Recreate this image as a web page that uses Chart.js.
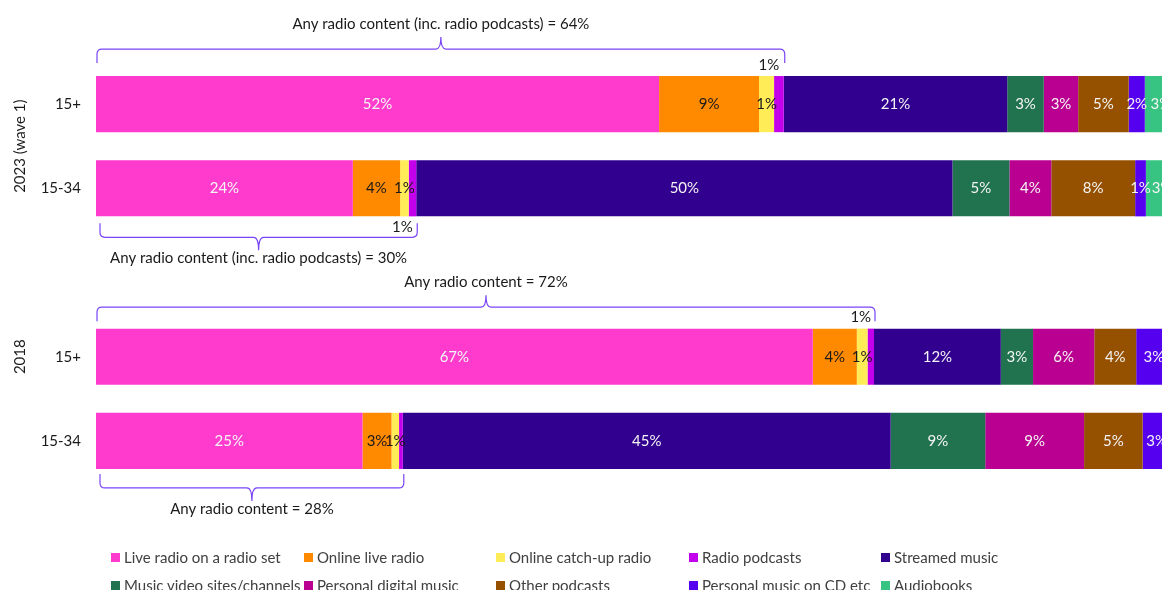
<!DOCTYPE html>
<html><head><meta charset="utf-8">
<script src="https://cdn.jsdelivr.net/npm/chart.js@4/dist/chart.umd.min.js"></script>
<style>
html,body{margin:0;padding:0;background:#fff;}
#wrap{position:relative;width:1162px;height:590px;overflow:hidden;}
canvas{position:absolute;left:0;top:0;}
#legend{position:absolute;left:0;top:0;width:1162px;height:590px;pointer-events:none;font-family:Lato,sans-serif;font-size:15px;color:#404040;}
.li{position:absolute;display:flex;align-items:center;white-space:nowrap;height:16px;line-height:16px;}
.li .box{display:inline-block;width:9px;height:9px;margin-right:4px;}
</style></head>
<body><div id="wrap"><canvas id="c" width="1162" height="590"></canvas><div id="legend"></div></div>
<script>
// ---- data ----
const categories = ['15+', '15-34', '', '15+', '15-34'];
const groupLabels = ['2023 (wave 1)', '2018'];
const seriesNames = ['Live radio on a radio set', 'Online live radio', 'Online catch-up radio', 'Radio podcasts', 'Streamed music',
  'Music video sites/channels', 'Personal digital music', 'Other podcasts', 'Personal music on CD etc', 'Audiobooks'];
const liveRadioSet    = [52.4, 23.9, null, 66.7, 24.8];
const onlineLiveRadio = [9.3, 4.4, null, 4.1, 2.7];
const onlineCatchUp   = [1.4, 0.8, null, 1.0, 0.7];
const radioPodcasts   = [0.9, 0.7, null, 0.6, 0.35];
const streamedMusic   = [20.8, 49.9, null, 11.8, 45.4];
const musicVideo      = [3.4, 5.3, null, 3.0, 8.8];
const personalDigital = [3.2, 3.9, null, 5.7, 9.2];
const otherPodcasts   = [4.7, 7.8, null, 3.9, 5.45];
const personalCD      = [1.5, 1.0, null, 3.3, 2.6];
const audiobooks      = [3.0, 3.0, null, null, null];
const radioBracketLabels = ['Any radio content (inc. radio podcasts) = 64%', 'Any radio content (inc. radio podcasts) = 30%', null,
  'Any radio content = 72%', 'Any radio content = 28%'];

// ---- styles ----
const seriesValues = [liveRadioSet, onlineLiveRadio, onlineCatchUp, radioPodcasts, streamedMusic, musicVideo, personalDigital, otherPodcasts, personalCD, audiobooks];
const colors = ['#FF3BCE', '#FF8A00', '#FFEC57', '#C300EB', '#31008F', '#217350', '#BA0091', '#965100', '#5600F0', '#37C381'];
const labelColors = ['#F4F4F4', '#1A1A1A', '#1A1A1A', '#1A1A1A', '#F4F4F4', '#F4F4F4', '#F4F4F4', '#F4F4F4', '#F4F4F4', '#F4F4F4'];
const FONT = 'Lato, sans-serif';
const BRACE = '#7A45F5';
const braceEndGap = [13, 7, 0, 7.5, 5];   // style: gap between bar edge and brace tips
const groupTitleRow = [0.5, 3];           // style: where group titles are centred (row index)

const datasets = seriesNames.map((n, i) => ({
  label: n, data: seriesValues[i], backgroundColor: colors[i], borderWidth: 0,
  barPercentage: 1, categoryPercentage: 0.6667, stack: 's',
  labelColor: labelColors[i], outsideLabel: i === 3
}));

const segLabels = {
  id: 'segLabels',
  afterDatasetsDraw(chart) {
    const ctx = chart.ctx;
    ctx.save();
    ctx.font = '15px ' + FONT;
    ctx.textAlign = 'center'; ctx.textBaseline = 'middle';
    chart.data.datasets.forEach((ds, di) => {
      const meta = chart.getDatasetMeta(di);
      meta.data.forEach((bar, i) => {
        const v = ds.data[i];
        if (v == null) return;
        const r = Math.round(v);
        if (r < 1) return;
        const p = bar.getProps(['x', 'y', 'base', 'height'], true);
        let cx = (p.x + p.base) / 2, cy = p.y;
        if (ds.outsideLabel) {
          cx -= 10;
          cy = (i === 1 || i === 4) ? p.y + p.height / 2 + 11 : p.y - p.height / 2 - 11;
        }
        ctx.fillStyle = ds.labelColor;
        ctx.fillText(r + '%', cx, cy);
      });
    });
    ctx.restore();
  }
};

const braces = {
  id: 'braces',
  afterDraw(chart) {
    const ctx = chart.ctx, xs = chart.scales.x;
    const meta0 = chart.getDatasetMeta(0);
    ctx.save();
    ctx.strokeStyle = BRACE; ctx.lineWidth = 1.2;
    ctx.font = '15px ' + FONT; ctx.fillStyle = '#1A1A1A';
    ctx.textAlign = 'center'; ctx.textBaseline = 'middle';
    radioBracketLabels.forEach((txt, i) => {
      if (!txt) return;
      let tot = 0;
      for (let k = 0; k < 4; k++) tot += (seriesValues[k][i] || 0);
      const bar = meta0.data[i].getProps(['y', 'height'], true);
      const above = (i === 0 || i === 3);
      const top = bar.y - bar.height / 2, bot = bar.y + bar.height / 2;
      const x1 = xs.getPixelForValue(0) + (above ? 1 : 4);
      const x2 = xs.getPixelForValue(tot) + 1;
      const mid = (x1 + x2) / 2, r = 5;
      let yEnd, yLine, yPeak, yTxt, dir;
      if (above) { dir = 1; yEnd = top - braceEndGap[i]; yLine = yEnd - 14; yPeak = yLine - 12; yTxt = yLine - 25; }
      else { dir = -1; yEnd = bot + braceEndGap[i]; yLine = yEnd + 14; yPeak = yLine + 13; yTxt = yLine + 21; }
      ctx.beginPath();
      ctx.moveTo(x1, yEnd);
      ctx.lineTo(x1, yLine + dir * r);
      ctx.quadraticCurveTo(x1, yLine, x1 + r, yLine);
      ctx.lineTo(mid - r, yLine);
      ctx.quadraticCurveTo(mid, yLine, mid, yPeak);
      ctx.quadraticCurveTo(mid, yLine, mid + r, yLine);
      ctx.lineTo(x2 - r, yLine);
      ctx.quadraticCurveTo(x2, yLine, x2, yLine + dir * r);
      ctx.lineTo(x2, yEnd);
      ctx.stroke();
      ctx.fillText(txt, mid, yTxt);
    });
    ctx.restore();
  }
};

const groupTitles = {
  id: 'groupTitles',
  afterDraw(chart) {
    const ctx = chart.ctx, ys = chart.scales.y;
    ctx.save();
    ctx.font = '15px ' + FONT; ctx.fillStyle = '#1A1A1A';
    ctx.textAlign = 'center'; ctx.textBaseline = 'middle';
    groupLabels.forEach((g, gi) => {
      const yc = ys.getPixelForValue(groupTitleRow[gi]);
      ctx.save();
      ctx.translate(20, yc);
      ctx.rotate(-Math.PI / 2);
      ctx.fillText(g, 0, 0);
      ctx.restore();
    });
    ctx.restore();
  }
};

new Chart(document.getElementById('c'), {
  type: 'bar',
  data: { labels: categories, datasets },
  options: {
    indexAxis: 'y', responsive: false, animation: false,
    layout: { padding: { left: 0, right: 0, top: 62, bottom: 107 } },
    plugins: { legend: { display: false }, tooltip: { enabled: false } },
    scales: {
      x: { stacked: true, min: 0, max: 99.2, display: false },
      y: {
        stacked: true,
        grid: { display: false, drawTicks: false }, border: { display: false },
        ticks: { padding: 15, color: '#1A1A1A', font: { family: FONT, size: 15 } },
        afterFit: s => { s.width = 96; }
      }
    }
  },
  plugins: [segLabels, braces, groupTitles]
});

// HTML legend
const legend = document.getElementById('legend');
const colX = [111, 304, 496, 689, 881], rowY = [549, 577];
seriesNames.forEach((n, i) => {
  const d = document.createElement('div');
  d.className = 'li';
  d.style.left = colX[i % 5] + 'px';
  d.style.top = rowY[Math.floor(i / 5)] + 'px';
  d.innerHTML = '<span class="box" style="background:' + colors[i] + '"></span><span>' + n + '</span>';
  legend.appendChild(d);
});
</script>
</body></html>
